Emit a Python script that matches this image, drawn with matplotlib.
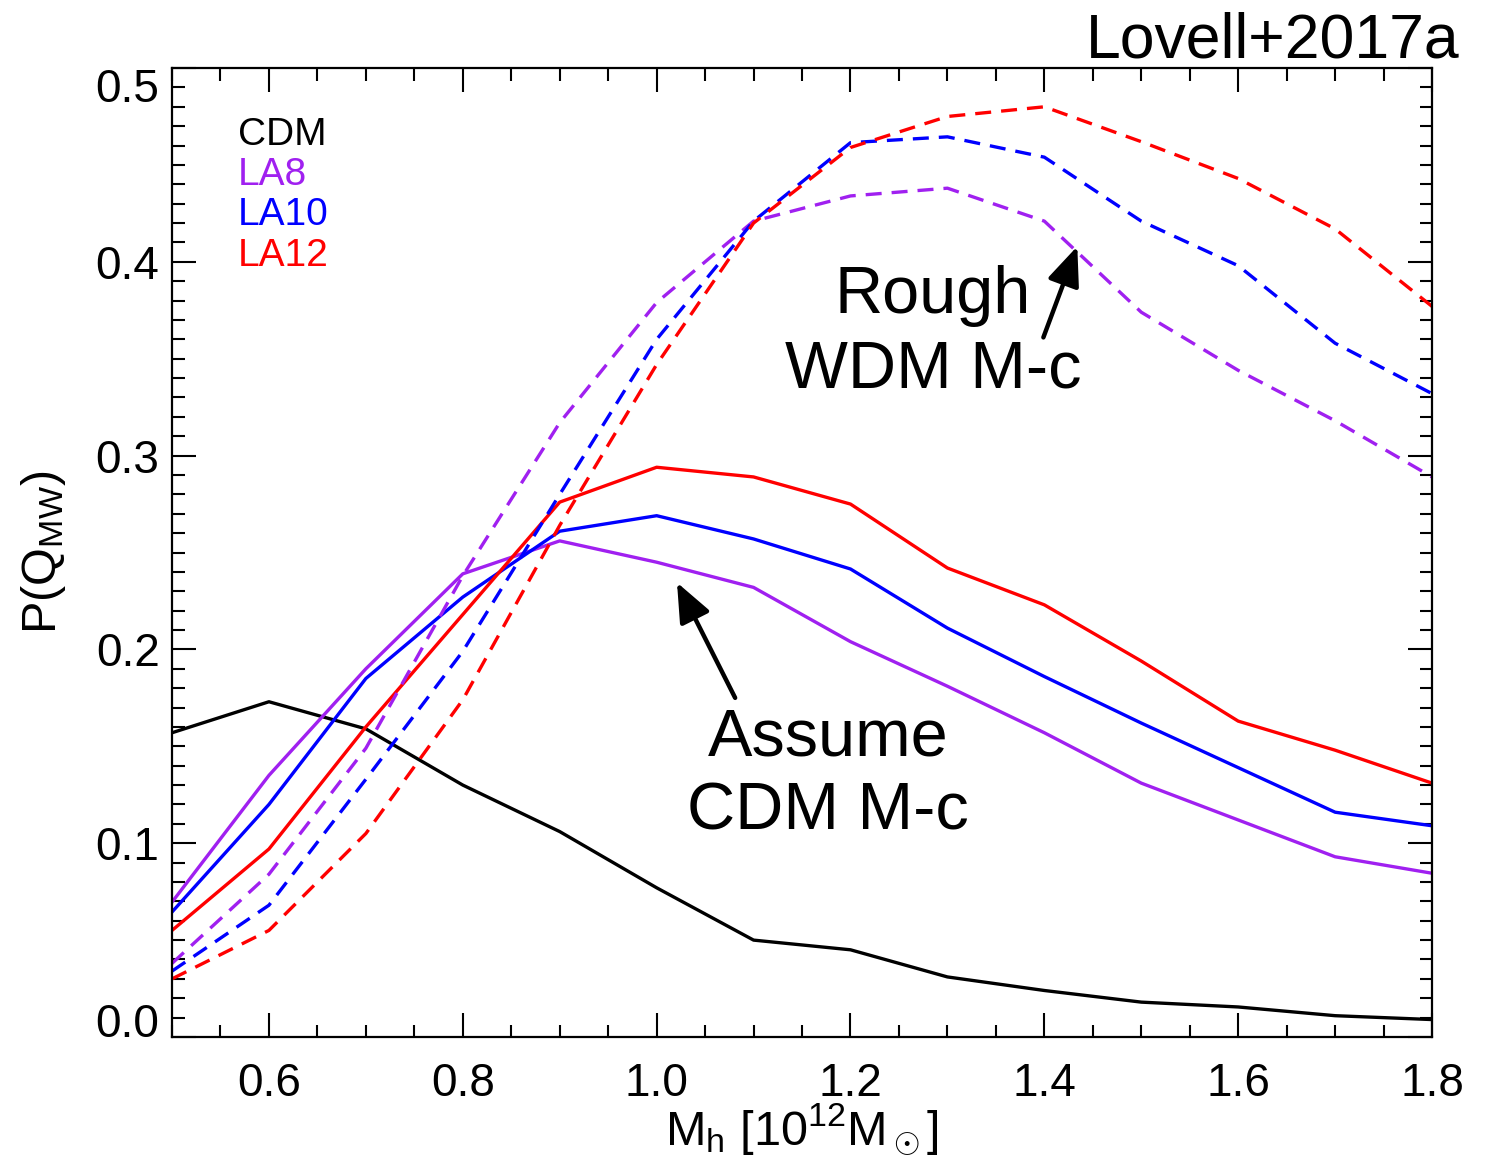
import matplotlib
matplotlib.use('Agg')
import matplotlib.pyplot as plt
import numpy as np

plt.rcParams['font.family'] = ['Liberation Sans', 'DejaVu Sans']
plt.rcParams['mathtext.fontset'] = 'custom'
plt.rcParams['mathtext.rm'] = 'Liberation Sans'
plt.rcParams['mathtext.it'] = 'Liberation Sans:italic'

# halo mass bins [10^12 Msun]
mhalo = [0.5, 0.6, 0.7, 0.8, 0.9, 1.0, 1.1, 1.2, 1.3, 1.4, 1.5, 1.6, 1.7, 1.8]

# solid lines: assume CDM mass-concentration
cdm = [0.157, 0.173, 0.159, 0.130, 0.106, 0.077, 0.050, 0.045, 0.031, 0.024, 0.018, 0.0155, 0.011, 0.009]
la8 = [0.0696, 0.135, 0.190, 0.239, 0.256, 0.245, 0.232, 0.204, 0.181, 0.157, 0.131, 0.112, 0.093, 0.0845]
la10 = [0.0645, 0.120, 0.185, 0.227, 0.261, 0.269, 0.257, 0.2415, 0.211, 0.186, 0.162, 0.139, 0.116, 0.109]
la12 = [0.055, 0.097, 0.160, 0.218, 0.276, 0.294, 0.289, 0.275, 0.242, 0.223, 0.194, 0.163, 0.148, 0.131]

# dashed lines: rough WDM mass-concentration
la8_wdm = [0.038, 0.084, 0.149, 0.238, 0.317, 0.379, 0.421, 0.434, 0.438, 0.421, 0.374, 0.344, 0.318, 0.289]
la10_wdm = [0.034, 0.068, 0.133, 0.199, 0.280, 0.360, 0.421, 0.4615, 0.4645, 0.454, 0.421, 0.398, 0.358, 0.332]
la12_wdm = [0.030, 0.055, 0.105, 0.174, 0.264, 0.347, 0.420, 0.459, 0.475, 0.480, 0.462, 0.443, 0.417, 0.377]

models = ['CDM', 'LA8', 'LA10', 'LA12']
colors = ['black', '#A020F0', 'blue', 'red']

xticks = [0.6, 0.8, 1.0, 1.2, 1.4, 1.6, 1.8]
yticks = [0.0, 0.1, 0.2, 0.3, 0.4, 0.5]


fig = plt.figure(figsize=(14.88, 11.61), dpi=100)
ax = fig.add_axes([0.1156, 0.1068, 0.8468, 0.8346])

lw = 2.4
dash = (4.8, 3.0)

ax.plot(mhalo, cdm, color=colors[0], lw=lw)
ax.plot(mhalo, la8, color=colors[1], lw=lw)
ax.plot(mhalo, la10, color=colors[2], lw=lw)
ax.plot(mhalo, la12, color=colors[3], lw=lw)

ax.plot(mhalo, la8_wdm, color=colors[1], lw=lw, ls=(0, dash))
ax.plot(mhalo, la10_wdm, color=colors[2], lw=lw, ls=(0, dash))
ax.plot(mhalo, la12_wdm, color=colors[3], lw=lw, ls=(0, dash))

ax.set_xlim(0.5, 1.8)
ax.set_ylim(0.0, 0.5)

ax.set_xticks(xticks)
ax.set_xticklabels(['%.1f' % v for v in xticks])
ax.set_xticks(np.arange(0.5, 1.8001, 0.05), minor=True)
ax.set_yticks(yticks)
ax.set_yticklabels(['%.1f' % v for v in yticks])
ax.set_yticks(np.arange(0.0, 0.5001, 0.01), minor=True)

ax.tick_params(which='both', direction='in', top=True, right=True, width=1.5,
               labelsize=33, colors='black')
ax.tick_params(which='major', length=17)
ax.tick_params(which='minor', length=9)
ax.tick_params(axis='x', which='major', pad=18)
ax.tick_params(axis='y', which='major', pad=9)
for s in ax.spines.values():
    s.set_linewidth(1.6)

# IDL style: end labels pulled inside the axis range
ax.yaxis.get_major_ticks()[0].label1.set_va('baseline')
ax.yaxis.get_major_ticks()[-1].label1.set_va('top')

ax.set_xlabel(r'M$_\mathrm{h}$ [10$^{12}$M$_\odot$]', fontsize=35, labelpad=-3)
ax.set_ylabel(r'P(Q$_\mathrm{MW}$)', fontsize=35, labelpad=20)

# legend as coloured text
leg_y = [0.931, 0.890, 0.848, 0.806]
for name, c, yy in zip(models, colors, leg_y):
    ax.text(0.052, yy, name, color=c, fontsize=28, transform=ax.transAxes,
            ha='left', va='center')

# annotations
ax.text(1.285, 0.3825, 'Rough', fontsize=48, ha='center', va='center')
ax.text(1.285, 0.344, 'WDM M-c', fontsize=48, ha='center', va='center')
ax.text(1.177, 0.154, 'Assume', fontsize=48, ha='center', va='center')
ax.text(1.177, 0.116, 'CDM M-c', fontsize=48, ha='center', va='center')

arrow = dict(arrowstyle='-|>,head_length=1.2,head_width=0.5', lw=3.2,
             color='black', mutation_scale=20, shrinkA=0, shrinkB=0)
ax.annotate('', xy=(1.021, 0.2345), xytext=(1.081, 0.175), arrowprops=arrow)
ax.annotate('', xy=(1.434, 0.408), xytext=(1.399, 0.361), arrowprops=arrow)

fig.text(0.981, 0.9645, 'Lovell+2017a', fontsize=45, ha='right', va='center')

fig.savefig('out.png', dpi=100)
